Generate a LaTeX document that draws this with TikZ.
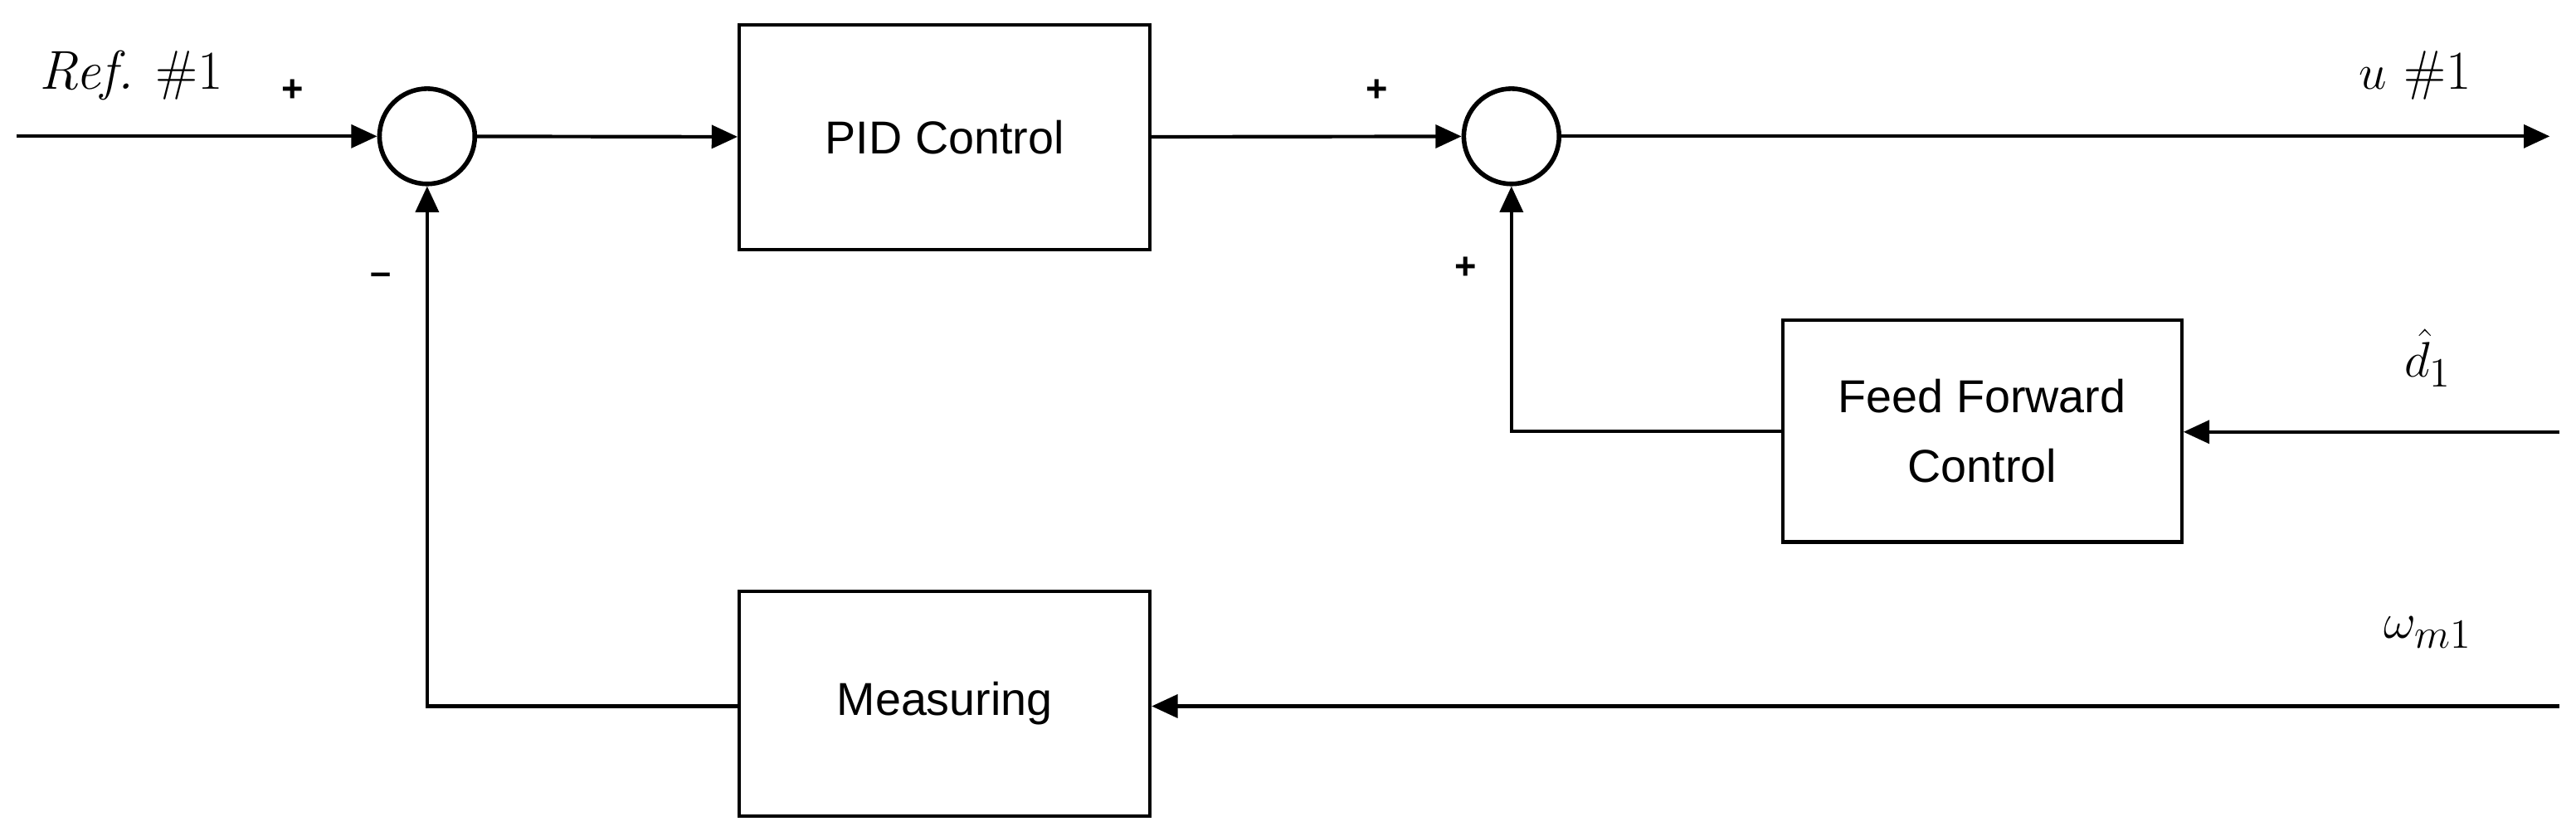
\documentclass[tikz,border=0pt]{standalone}
\usepackage{fontspec}
\newfontfamily\sansf{Liberation Sans}
\usetikzlibrary{arrows.meta}
\begin{document}
\begin{tikzpicture}[x=0.02cm,y=-0.02cm,
  line width=1.2pt,
  blk/.style={draw,rectangle,inner sep=0pt,font=\sansf\fontsize{16}{20}\selectfont,align=center},
  sum/.style={draw,circle,minimum size=1.16cm,inner sep=0pt,line width=1.6pt},
  lbl/.style={font=\fontsize{19}{23}\selectfont},
  sg/.style={font=\sansf\fontsize{13}{15}\selectfont\bfseries},
  >={Triangle[length=9pt,width=8pt]}]
\useasboundingbox (0,0) rectangle (1568,509);
\node[sum] (s1) at (260,83) {};
\node[sum] (s2) at (920,83) {};
\node[blk,minimum width=5cm,minimum height=2.74cm] (pid) at (575,83.5) {PID Control};
\node[blk,minimum width=4.86cm,minimum height=2.7cm] (ff) at (1206.5,262.5) {Feed Forward\\[4pt]Control};
\node[blk,minimum width=5cm,minimum height=2.74cm] (ms) at (575,428.5) {Measuring};
\coordinate (rin) at (10,83);
\coordinate (uout) at (1552,83);
\coordinate (din) at (1558,263);
\coordinate (win) at (1558,430);
\draw[->] (rin) -- (s1);
\draw[->] (s1) -- (pid);
\draw[->] (pid) -- (s2);
\draw[->] (s2) -- (uout);
\draw[->] (din) -- (ff.east |- din);
\draw[->] (ff.west) -| (s2.south);
\draw[->] (win) -- (ms.east |- win);
\draw[->] (ms.west |- win) -| (s1.south);
\node[lbl] at (80,46) {\textit{Ref.} \#1};
\node[sg] at (178,55) {+};
\node[sg] at (232,170) {–};
\node[sg] at (838,55) {+};
\node[sg] at (892,163) {+};
\node[lbl] at (1470,46) {$u$ \#1};
\node[lbl] at (1478,218) {$\hat{d}_1$};
\node[lbl] at (1478,385) {$\omega_{m1}$};
\end{tikzpicture}
\end{document}
